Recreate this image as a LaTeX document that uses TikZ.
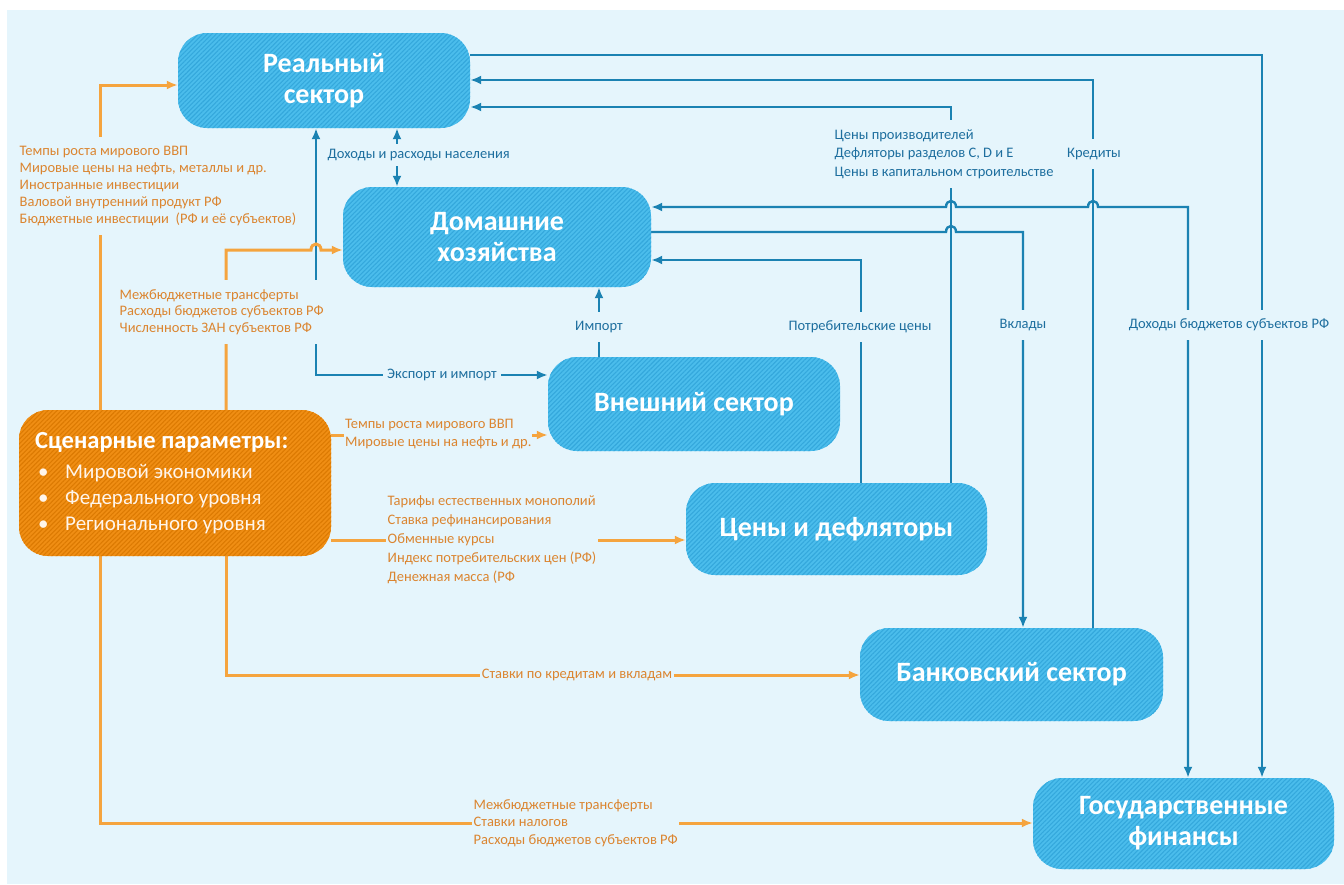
\documentclass[tikz,border=0pt]{standalone}
\usepackage{fontspec}
\setmainfont{Carlito}
\usetikzlibrary{arrows.meta,patterns.meta}
\definecolor{bgc}{HTML}{E5F5FC}
\definecolor{boxc}{HTML}{4BBDEC}
\definecolor{hatchc}{HTML}{34A8DC}
\definecolor{orbox}{HTML}{F08E14}
\definecolor{orhatch}{HTML}{DC7A02}
\definecolor{bline}{HTML}{1B82B2}
\definecolor{oline}{HTML}{F5A43E}
\definecolor{otext}{HTML}{DB8530}
\definecolor{btext}{HTML}{1D6E9E}
\pgfdeclarelayer{back}
\pgfdeclarelayer{lines}
\pgfsetlayers{back,lines,main}
\tikzset{
  sector/.style={rounded corners=29pt, fill=boxc,
    postaction={pattern={Lines[angle=45,distance=3.2pt,line width=1.1pt]}, pattern color=hatchc},
    text=white, font=\fontsize{28}{31}\selectfont\bfseries, align=center, inner sep=0pt},
  scenbox/.style={rounded corners=29pt, fill=orbox,
    postaction={pattern={Lines[angle=45,distance=3.2pt,line width=1.1pt]}, pattern color=orhatch}, inner sep=0pt},
  bl/.style={draw=bline, line width=2.4pt},
  ol/.style={draw=oline, line width=3pt},
  endarrow/.style={-{Latex[length=11pt,width=9pt]}},
  bothends/.style={{Latex[length=11pt,width=9pt]}-{Latex[length=11pt,width=9pt]}},
  lbl/.style={fill=bgc, inner sep=1.5pt, font=\fontsize{14.5}{17.5}\selectfont, align=left},
  olbl/.style={lbl, text=otext},
  blbl/.style={lbl, text=btext},
}
\begin{document}
\begin{tikzpicture}[x=1pt,y=-1pt]
\useasboundingbox (0,0) rectangle (1344,884);
\begin{pgfonlayer}{back}
\fill[white] (0,0) rectangle (1344,884);
\fill[bgc] (7,10) rectangle (1344,884);
\end{pgfonlayer}

% sector boxes
\node[sector, minimum width=292pt, minimum height=95pt] (real) at (324,80.5) {Реальный\\сектор};
\node[sector, minimum width=308pt, minimum height=100pt] (home) at (497,237) {Домашние\\хозяйства};
\node[sector, minimum width=292pt, minimum height=94pt] (ext) at (694,404) {Внешний сектор};
\node[sector, minimum width=301pt, minimum height=92pt] (price) at (836.5,529) {Цены и дефляторы};
\node[sector, minimum width=303pt, minimum height=93pt] (bank) at (1011.5,674.5) {Банковский сектор};
\node[sector, minimum width=301pt, minimum height=91pt] (gov) at (1183.5,823.5) {Государственные\\финансы};
\node[scenbox, minimum width=312pt, minimum height=146pt] (scen) at (175,483) {};
\node[anchor=west, text=white, font=\fontsize{24.5}{28}\selectfont\bfseries, inner sep=0pt] (scentitle) at (35,442) {Сценарные параметры:};
\node[anchor=west, text=white!92!orange, font=\fontsize{21}{26}\selectfont, align=left, inner sep=0pt] (scenlist) at (38,499)
  {\makebox[27pt][l]{•}Мировой экономики\\\makebox[27pt][l]{•}Федерального уровня\\\makebox[27pt][l]{•}Регионального уровня};

\begin{pgfonlayer}{lines}
% blue connectors
\draw[bl, endarrow] (real.east |- 0,55) -| (gov.north -| 1262,0);
\draw[bl, endarrow] (bank.north -| 1093,0) |- (real.east |- 0,80);
\draw[bl, endarrow] (price.north -| 951,0) |- (real.east |- 0,107);
\draw[bl, bothends] (home.east |- 0,207) -- (946,207) .. controls (946,199) and (956,199) .. (956,207)
  -- (1088,207) .. controls (1088,199) and (1098,199) .. (1098,207) -| (gov.north -| 1188,0);
\draw[bl, endarrow] (home.east |- 0,232) -- (946,232) .. controls (946,224) and (956,224) .. (956,232)
  -| (bank.north -| 1023,0);
\draw[bl, endarrow] (price.north -| 861,0) |- (home.east |- 0,260);
\draw[bl, endarrow] (ext.north -| 599,0) -- (home.south -| 599,0);
\draw[bl, bothends] (home.north -| 397,0) -- (real.south -| 397,0);
\draw[bl, bothends] (real.south -| 316,0) |- (ext.west |- 0,375);
% orange connectors
\draw[ol, endarrow] (scen.north -| 100,0) |- (real.west |- 0,85);
\draw[ol, endarrow] (scen.north -| 226,0) |- (311,250) .. controls (311,242) and (321,242) .. (321,250)
  -- (home.west |- 0,250);
\draw[ol, endarrow] (scen.east |- 0,435) -- (ext.west |- 0,435);
\draw[ol, endarrow] (scen.east |- 0,540) -- (price.west |- 0,540);
\draw[ol, endarrow] (scen.south -| 226,0) |- (bank.west |- 0,675);
\draw[ol, endarrow] (scen.south -| 100,0) |- (gov.west |- 0,823);
\end{pgfonlayer}

% orange labels
\node[olbl, anchor=west, inner ysep=9pt, font=\fontsize{14.5}{17}\selectfont] (lab1) at (18,186)
  {Темпы роста мирового ВВП\\Мировые цены на нефть, металлы и др.\\Иностранные инвестиции\\Валовой внутренний продукт РФ\\Бюджетные инвестиции~~(РФ и её субъектов)};
\node[olbl, anchor=west, inner ysep=9pt, font=\fontsize{14.5}{16.5}\selectfont] (lab2) at (118,312)
  {Межбюджетные трансферты\\Расходы бюджетов субъектов РФ\\Численность ЗАН субъектов РФ};
\node[olbl, anchor=west, inner sep=1pt] (lab3) at (344,434)
  {Темпы роста мирового ВВП\\Мировые цены на нефть и др.};
\node[olbl, anchor=west, font=\fontsize{14.5}{19}\selectfont] (lab4) at (386,540)
  {Тарифы естественных монополий\\Ставка рефинансирования\\Обменные курсы\\Индекс потребительских цен (РФ)\\Денежная масса (РФ};
\node[olbl] (lab5) at (577,675) {Ставки по кредитам и вкладам};
\node[olbl, anchor=west] (lab6) at (472,823)
  {Межбюджетные трансферты\\Ставки налогов\\Расходы бюджетов субъектов РФ};

% blue labels
\node[blbl, anchor=west, inner ysep=5pt] (lab7) at (326,155) {Доходы и расходы населения};
\node[blbl, anchor=west, inner ysep=9pt, font=\fontsize{14.5}{18.5}\selectfont] (lab8) at (833,154)
  {Цены производителей\\Дефляторы разделов C, D и E\\Цены в капитальном строительстве};
\node[blbl, inner ysep=9pt] (lab9) at (1094,154) {Кредиты};
\node[blbl, inner ysep=9pt] (lab10) at (599,327) {Импорт};
\node[blbl, inner ysep=9pt] (lab11) at (860,327) {Потребительские цены};
\node[blbl, inner ysep=9pt] (lab12) at (1023,325) {Вклады};
\node[blbl, inner ysep=9pt] (lab13) at (1229,325) {Доходы бюджетов субъектов РФ};
\node[blbl, inner xsep=4pt] (lab14) at (442,375) {Экспорт и импорт};
\end{tikzpicture}
\end{document}
